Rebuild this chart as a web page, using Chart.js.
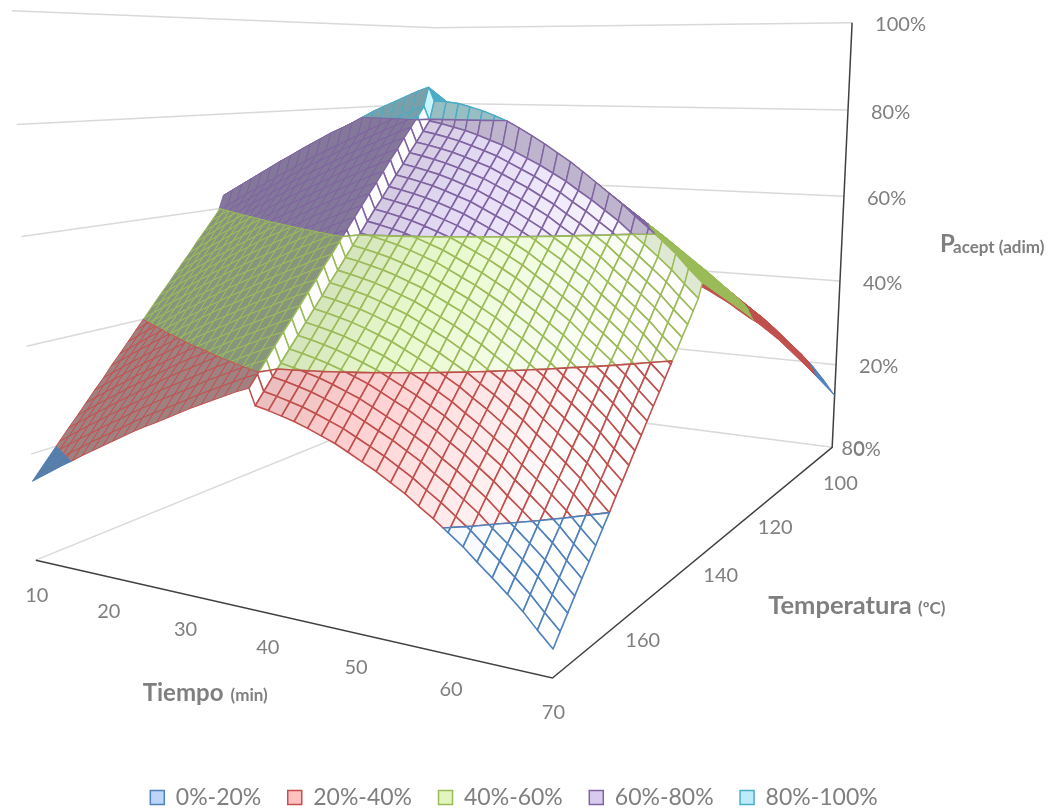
<!DOCTYPE html>
<html lang="es">
<head>
<meta charset="utf-8">
<title>Pacept</title>
<script src="https://cdn.jsdelivr.net/npm/chart.js@4/dist/chart.umd.min.js"></script>
<style>
  html, body { margin: 0; padding: 0; background: #fff; overflow: hidden; }
  #wrap { width: 1054px; height: 810px; }
</style>
</head>
<body>
<div id="wrap"><canvas id="surface" width="1054" height="810"></canvas></div>
<script>
const tiempoTicks = [10, 20, 30, 40, 50, 60, 70];
const temperaturaTicks = [80, 100, 120, 140, 160];
const pacTicks = [0, 20, 40, 60, 80, 100];
const bandLabels = ["0%-20%", "20%-40%", "40%-60%", "60%-80%", "80%-100%"];

// mesh columns (min)
const tiempo = [10, 11.4, 12.8, 14.2, 15.7, 17.1, 18.5, 19.9, 21.3, 22.7, 24.1, 25.5, 27, 28.4, 29.8, 31.2, 32.6, 34, 35.4, 36.8, 38.3,
  39, 40.5, 42, 43.4, 44.9, 46.4, 47.9, 49.3, 50.8, 52.3, 53.8, 55.3, 56.7, 58.2, 59.7, 61.2, 62.6, 64.1, 65.6, 67.1, 68.5, 70];
// mesh rows (C)
const temperatura = [80, 95, 110, 125, 140.6, 141.8, 143.4, 145.1, 146.8, 148.4, 150.1, 151.8, 153.4, 155.1, 156.8, 158.4, 160.1, 161.7,
  163.4, 165.1, 166.7, 168.4, 170.1, 171.7, 173.4, 175.1, 176.7, 178.4, 180];

// Pacept (%), one row per temperature
const pacept = [
  [23.0,24.3,25.6,26.9,28.2,29.5,30.7,31.9,33.1,34.3,35.5,36.6,37.7,38.8,39.9,41.0,42.0,43.0,44.0,45.0,45.9,43.1,42.6,42.0,41.4,40.6,39.7,38.8,37.7,36.5,35.3,33.9,32.5,30.9,29.3,28.0,26.7,25.2,23.5,21.4,18.8,16.0,12.6],
  [33.9,35.2,36.5,37.8,39.1,40.4,41.6,42.8,44.0,45.2,46.4,47.5,48.6,49.7,50.8,51.9,52.9,53.9,54.9,55.9,56.8,54.0,53.5,52.9,52.3,51.5,50.6,49.7,48.6,47.4,46.2,44.8,43.4,41.8,40.2,38.7,37.3,35.6,33.8,31.7,29.3,26.6,23.5],
  [44.2,45.5,46.8,48.1,49.4,50.7,51.9,53.1,54.3,55.5,56.7,57.8,58.9,60.0,61.1,62.2,63.2,64.2,65.2,66.2,67.1,64.3,63.8,63.2,62.6,61.8,60.9,60.0,58.9,57.7,56.5,55.1,53.7,52.1,50.5,48.7,46.9,44.9,42.9,40.8,38.6,36.2,33.8],
  [53.4,54.7,56.0,57.3,58.6,59.9,61.1,62.3,63.5,64.7,65.9,67.0,68.1,69.2,70.3,71.4,72.4,73.4,74.4,75.4,76.3,73.5,73.0,72.4,71.8,71.0,70.1,69.2,68.1,66.9,65.7,64.3,62.9,61.3,59.7,57.9,56.1,54.1,52.1,50.0,47.8,45.4,43.0],
  [62.7,64.0,65.3,66.6,68.0,69.3,70.6,71.8,73.1,74.3,75.5,76.7,77.8,78.9,80.1,81.3,82.3,83.3,84.3,85.3,86.2,83.5,83.4,83.1,82.5,81.8,80.9,79.9,78.7,77.3,75.8,74.2,72.6,70.9,69.0,67.1,65.2,63.1,61.1,58.9,56.7,54.2,51.8],
  [59.6,60.9,62.2,63.5,64.8,66.1,67.3,68.5,69.7,70.9,72.1,73.2,74.3,75.4,76.5,77.6,78.6,79.6,80.6,81.6,82.5,79.7,79.2,78.6,78.0,77.2,76.3,75.4,74.3,73.1,71.9,70.5,69.1,67.5,65.9,64.1,62.3,60.3,58.3,56.2,54.0,51.6,49.2],
  [57.7,59.0,60.3,61.6,62.9,64.2,65.4,66.6,67.8,69.0,70.2,71.3,72.4,73.5,74.6,75.7,76.7,77.7,78.7,79.7,80.6,77.8,77.3,76.7,76.1,75.3,74.4,73.5,72.4,71.2,70.0,68.6,67.2,65.6,64.0,62.2,60.4,58.4,56.4,54.3,52.1,49.7,47.3],
  [55.7,57.0,58.3,59.6,60.9,62.2,63.4,64.6,65.8,67.0,68.2,69.3,70.4,71.5,72.6,73.7,74.7,75.7,76.7,77.7,78.6,75.8,75.3,74.7,74.1,73.3,72.4,71.5,70.4,69.2,68.0,66.6,65.2,63.6,62.0,60.2,58.4,56.4,54.4,52.3,50.1,47.7,45.3],
  [53.8,55.1,56.4,57.7,59.0,60.3,61.5,62.7,63.9,65.1,66.3,67.4,68.5,69.6,70.7,71.8,72.8,73.8,74.8,75.8,76.7,73.9,73.4,72.8,72.2,71.4,70.5,69.6,68.5,67.3,66.1,64.7,63.3,61.7,60.1,58.3,56.5,54.5,52.5,50.4,48.2,45.8,43.4],
  [51.8,53.1,54.4,55.7,57.0,58.3,59.5,60.7,61.9,63.1,64.3,65.4,66.5,67.6,68.7,69.8,70.8,71.8,72.8,73.8,74.7,71.9,71.4,70.8,70.2,69.4,68.5,67.6,66.5,65.3,64.1,62.7,61.3,59.7,58.1,56.3,54.5,52.5,50.5,48.4,46.2,43.8,41.4],
  [49.9,51.2,52.5,53.8,55.1,56.4,57.6,58.8,60.0,61.2,62.4,63.5,64.6,65.7,66.8,67.9,68.9,69.9,70.9,71.9,72.8,70.0,69.5,68.9,68.3,67.5,66.6,65.7,64.6,63.4,62.2,60.8,59.4,57.8,56.2,54.4,52.6,50.6,48.6,46.5,44.3,41.9,39.5],
  [47.9,49.2,50.5,51.8,53.1,54.4,55.6,56.8,58.0,59.2,60.4,61.5,62.6,63.7,64.8,65.9,66.9,67.9,68.9,69.9,70.8,68.0,67.5,66.9,66.3,65.5,64.6,63.7,62.6,61.4,60.2,58.8,57.4,55.8,54.2,52.4,50.6,48.6,46.6,44.5,42.3,39.9,37.5],
  [46.0,47.3,48.6,49.9,51.2,52.5,53.7,54.9,56.1,57.3,58.5,59.6,60.7,61.8,62.9,64.0,65.0,66.0,67.0,68.0,68.9,66.1,65.6,65.0,64.4,63.6,62.7,61.8,60.7,59.5,58.3,56.9,55.5,53.9,52.3,50.5,48.7,46.7,44.7,42.6,40.4,38.0,35.6],
  [44.1,45.4,46.7,48.0,49.3,50.6,51.8,53.0,54.2,55.4,56.6,57.7,58.8,59.9,61.0,62.1,63.1,64.1,65.1,66.1,67.0,64.2,63.7,63.1,62.5,61.7,60.8,59.9,58.8,57.6,56.4,55.0,53.6,52.0,50.4,48.6,46.8,44.8,42.8,40.7,38.5,36.1,33.7],
  [42.1,43.4,44.7,46.0,47.3,48.6,49.8,51.0,52.2,53.4,54.6,55.7,56.8,57.9,59.0,60.1,61.1,62.1,63.1,64.1,65.0,62.2,61.7,61.1,60.5,59.7,58.8,57.9,56.8,55.6,54.4,53.0,51.6,50.0,48.4,46.6,44.8,42.8,40.8,38.7,36.5,34.1,31.7],
  [40.2,41.5,42.8,44.1,45.4,46.7,47.9,49.1,50.3,51.5,52.7,53.8,54.9,56.0,57.1,58.2,59.2,60.2,61.2,62.2,63.1,60.3,59.8,59.2,58.6,57.8,56.9,56.0,54.9,53.7,52.5,51.1,49.7,48.1,46.5,44.7,42.9,40.9,38.9,36.8,34.6,32.2,29.8],
  [38.2,39.5,40.8,42.1,43.4,44.7,45.9,47.1,48.3,49.5,50.7,51.8,52.9,54.0,55.1,56.2,57.2,58.2,59.2,60.2,61.1,58.3,57.8,57.2,56.6,55.8,54.9,54.0,52.9,51.7,50.5,49.1,47.7,46.1,44.5,42.7,40.9,38.9,36.9,34.8,32.6,30.2,27.8],
  [36.3,37.6,38.9,40.2,41.5,42.8,44.0,45.2,46.4,47.6,48.8,49.9,51.0,52.1,53.2,54.3,55.3,56.3,57.3,58.3,59.2,56.4,55.9,55.3,54.7,53.9,53.0,52.1,51.0,49.8,48.6,47.2,45.8,44.2,42.6,40.8,39.0,37.0,35.0,32.9,30.7,28.3,25.9],
  [34.3,35.6,36.9,38.2,39.5,40.8,42.0,43.2,44.4,45.6,46.8,47.9,49.0,50.1,51.2,52.3,53.3,54.3,55.3,56.3,57.2,54.4,53.9,53.3,52.7,51.9,51.0,50.1,49.0,47.8,46.6,45.2,43.8,42.2,40.6,38.8,37.0,35.0,33.0,30.9,28.7,26.3,23.9],
  [32.4,33.7,35.0,36.3,37.6,38.9,40.1,41.3,42.5,43.7,44.9,46.0,47.1,48.2,49.3,50.4,51.4,52.4,53.4,54.4,55.3,52.5,52.0,51.4,50.8,50.0,49.1,48.2,47.1,45.9,44.7,43.3,41.9,40.3,38.7,36.9,35.1,33.1,31.1,29.0,26.8,24.4,22.0],
  [30.4,31.7,33.0,34.3,35.6,36.9,38.1,39.3,40.5,41.7,42.9,44.0,45.1,46.2,47.3,48.4,49.4,50.4,51.4,52.4,53.3,50.5,50.0,49.4,48.8,48.0,47.1,46.2,45.1,43.9,42.7,41.3,39.9,38.3,36.7,34.9,33.1,31.1,29.1,27.0,24.8,22.4,20.0],
  [28.5,29.8,31.1,32.4,33.7,35.0,36.2,37.4,38.6,39.8,41.0,42.1,43.2,44.3,45.4,46.5,47.5,48.5,49.5,50.5,51.4,48.6,48.1,47.5,46.9,46.1,45.2,44.3,43.2,42.0,40.8,39.4,38.0,36.4,34.8,33.0,31.2,29.2,27.2,25.1,22.9,20.5,18.1],
  [26.5,27.8,29.1,30.4,31.7,33.0,34.2,35.4,36.6,37.8,39.0,40.1,41.2,42.3,43.4,44.5,45.5,46.5,47.5,48.5,49.4,46.6,46.1,45.5,44.9,44.1,43.2,42.3,41.2,40.0,38.8,37.4,36.0,34.4,32.8,31.0,29.2,27.2,25.2,23.1,20.9,18.5,16.1],
  [24.6,25.9,27.2,28.5,29.8,31.1,32.3,33.5,34.7,35.9,37.1,38.2,39.3,40.4,41.5,42.6,43.6,44.6,45.6,46.6,47.5,44.7,44.2,43.6,43.0,42.2,41.3,40.4,39.3,38.1,36.9,35.5,34.1,32.5,30.9,29.1,27.3,25.3,23.3,21.2,19.0,16.6,14.2],
  [22.7,24.0,25.3,26.6,27.9,29.2,30.4,31.6,32.8,34.0,35.2,36.3,37.4,38.5,39.6,40.7,41.7,42.7,43.7,44.7,45.6,42.8,42.3,41.7,41.1,40.3,39.4,38.5,37.4,36.2,35.0,33.6,32.2,30.6,29.0,27.2,25.4,23.4,21.4,19.3,17.1,14.7,12.3],
  [20.7,22.0,23.3,24.6,25.9,27.2,28.4,29.6,30.8,32.0,33.2,34.3,35.4,36.5,37.6,38.7,39.7,40.7,41.7,42.7,43.6,40.8,40.3,39.7,39.1,38.3,37.4,36.5,35.4,34.2,33.0,31.6,30.2,28.6,27.0,25.2,23.4,21.4,19.4,17.3,15.1,12.7,10.3],
  [18.8,20.1,21.4,22.7,24.0,25.3,26.5,27.7,28.9,30.1,31.3,32.4,33.5,34.6,35.7,36.8,37.8,38.8,39.8,40.8,41.7,38.9,38.4,37.8,37.2,36.4,35.5,34.6,33.5,32.3,31.1,29.7,28.3,26.7,25.1,23.3,21.5,19.5,17.5,15.4,13.2,10.8,8.4],
  [16.8,18.1,19.4,20.7,22.0,23.3,24.5,25.7,26.9,28.1,29.3,30.4,31.5,32.6,33.7,34.8,35.8,36.8,37.8,38.8,39.7,36.9,36.4,35.8,35.2,34.4,33.5,32.6,31.5,30.3,29.1,27.7,26.3,24.7,23.1,21.3,19.5,17.5,15.5,13.4,11.2,8.8,6.4],
  [14.9,16.2,17.5,18.8,20.1,21.4,22.6,23.8,25.0,26.2,27.4,28.5,29.6,30.7,31.8,32.9,33.9,34.9,35.9,36.9,37.8,35.0,34.5,33.9,33.3,32.5,31.6,30.7,29.6,28.4,27.2,25.8,24.4,22.8,21.2,19.4,17.6,15.6,13.6,11.5,9.3,6.9,4.5],
];

const lineColors = ["#4F81BD", "#C0504D", "#9BBB59", "#8064A2", "#4BACC6"];
const swatchColors = ["#BDD5F8", "#FFC0C0", "#E2F5BE", "#D8CAEC", "#BEEBFA"];
const darkFills = ["#5A7DA5", "#A08080", "#87967A", "#83789A", "#78A0AA"];
const shadeFills = ["#C6D3E3", "#E3C8C8", "#DEE8D2", "#BEB4CD", "#96BEC3"];
const paleFills = [[232, 240, 255], [255, 208, 208], [232, 250, 205], [232, 222, 248], [200, 245, 255]];

const LAST_LEFT_COL = 20; // last column left of the ridge
const RIDGE_ROW = 4; // row of the back fold
const TEXT_GREY = "#7F7F7F";
const FONT = "Lato, 'Open Sans', sans-serif";

// camera fitted to the corners of the box: floor and top of the walls
function project(t, T, p) {
  const u = (t - 10) / 60;
  const v = (T - 80) / 100;
  const h = p / 100;
  const w = 1 - 0.132 * u - 0.3094 * v - 0.03 * h;
  return {
    x: (284.2 * u - 413.8 * v + 438 + h * (7.8 * u - 0.9 * v - 16.05)) / w,
    y: (396 - 8 * u - 9.3 * v + h * (0.25 * u - 10.29 * v - 369.81)) / w,
  };
}

function lineDataset(points, color, width) {
  return {
    data: points,
    showLine: true,
    borderColor: color,
    borderWidth: width,
    pointRadius: 0,
    fill: false,
    tension: 0,
    clip: false,
  };
}

function cellDataset(points, color, fillColor, width) {
  const closed = points.concat([points[0]]);
  return Object.assign(lineDataset(closed, color, width), {
    backgroundColor: fillColor,
    fill: "shape",
    borderJoinStyle: "round",
  });
}

// keep the part of a cell between two levels
function clipLevel(poly, level, keepAbove) {
  const out = [];
  for (let i = 0; i < poly.length; i++) {
    const a = poly[i];
    const b = poly[(i + 1) % poly.length];
    const aIn = keepAbove ? a.p >= level : a.p <= level;
    const bIn = keepAbove ? b.p >= level : b.p <= level;
    if (aIn) out.push(a);
    if (aIn !== bIn) {
      const k = (level - a.p) / (b.p - a.p);
      out.push({ x: a.x + (b.x - a.x) * k, y: a.y + (b.y - a.y) * k, p: level });
    }
  }
  return out;
}

function paleFill(band, col) {
  const s = (col - LAST_LEFT_COL - 1) / (tiempo.length - LAST_LEFT_COL - 2);
  const base = paleFills[band];
  let rgb;
  if (s < 0.3) {
    const k = 1 - 0.08 * ((0.3 - s) / 0.3);
    rgb = base.map((c) => c * k);
  } else {
    const k = Math.min(1, (s - 0.3) / 0.55);
    rgb = base.map((c) => c + (255 - c) * k);
  }
  return "rgb(" + rgb.map(Math.round).join(",") + ")";
}

function cellStyle(band, col, row) {
  if (row < RIDGE_ROW) return { fill: lineColors[band], width: 1 };
  const leftSide = col < LAST_LEFT_COL;
  const strip = col === LAST_LEFT_COL;
  if (row === RIDGE_ROW) {
    if (leftSide) return { fill: darkFills[band], width: 1 };
    if (strip) return { fill: "#C8F5FF", width: 1.2 };
    return { fill: shadeFills[band], width: 1.4 };
  }
  if (leftSide) return { fill: darkFills[band], width: 1 };
  if (strip) return { fill: "#FFFFFF", width: 1.5 };
  return { fill: paleFill(band, col), width: 1.6 };
}

function surfaceDatasets() {
  const sets = [];
  // far corner first, the nearer cells paint over it
  for (let col = 0; col < tiempo.length - 1; col++) {
    for (let row = 0; row < temperatura.length - 1; row++) {
      const corners = [[row, col], [row, col + 1], [row + 1, col + 1], [row + 1, col]].map(([r, c]) => {
        const pos = project(tiempo[c], temperatura[r], pacept[r][c]);
        return { x: pos.x, y: pos.y, p: pacept[r][c] };
      });
      for (let band = 4; band >= 0; band--) {
        let poly = clipLevel(corners, band * 20, true);
        if (poly.length) poly = clipLevel(poly, (band + 1) * 20, false);
        if (poly.length < 3) continue;
        const style = cellStyle(band, col, row);
        sets.push(cellDataset(poly.map((q) => ({ x: q.x, y: q.y })), lineColors[band], style.fill, style.width));
      }
    }
  }
  return sets;
}

function boxDatasets() {
  const sets = [];
  pacTicks.forEach((p) => {
    const back = project(10, 80, p);
    sets.push(lineDataset([project(10, 180, p), back, project(70, 80, p)], "#D9D9D9", 1.5));
  });
  const axes = [project(10, 180, 0), project(70, 180, 0), project(70, 80, 0), project(70, 80, 100)];
  sets.push(lineDataset(axes, "#404040", 1.5));
  return sets;
}

// drawn last to first by Chart.js, so the nearest mark goes in front of the list
const allDatasets = boxDatasets().concat(surfaceDatasets()).reverse();

const tempLabelShift = [[21, 1], [47, 4], [27, 11], [26, 15], [12, 27]];

const axisText = {
  id: "axisText",
  afterDraw(chart) {
    const ctx = chart.ctx;
    const sx = chart.scales.x;
    const sy = chart.scales.y;
    const put = (text, x, y, font, align) => {
      ctx.font = font;
      ctx.textAlign = align || "center";
      ctx.fillText(text, sx.getPixelForValue(x), sy.getPixelForValue(y));
    };
    ctx.save();
    ctx.fillStyle = TEXT_GREY;
    ctx.textBaseline = "middle";
    const tick = "20px " + FONT;
    tiempoTicks.forEach((t) => {
      const pos = project(t, 180, 0);
      put(String(t), pos.x + 1, pos.y + 35, tick);
    });
    temperaturaTicks.forEach((T, i) => {
      const pos = project(70, T, 0);
      put(String(T), pos.x + tempLabelShift[i][0], pos.y + tempLabelShift[i][1], tick);
    });
    pacTicks.forEach((p) => {
      const pos = project(70, 80, p);
      put(p + "%", pos.x + (p === 0 ? 21 : 23), pos.y + 2, tick, "left");
    });
    const small = "bold 17px " + FONT;
    put("Tiempo", 142, 693, "bold 24px " + FONT, "left");
    put("(min)", 230, 695, small, "left");
    put("Temperatura", 768, 606, "bold 25.5px " + FONT, "left");
    put("(ºC)", 918, 608, small, "left");
    put("P", 940, 244, "bold 24px " + FONT, "left");
    put("acept (adim)", 953, 247, small, "left");
    ctx.restore();
  },
};

const chart = new Chart(document.getElementById("surface"), {
  type: "scatter",
  data: { datasets: allDatasets },
  plugins: [axisText],
  options: {
    responsive: false,
    animation: false,
    events: [],
    devicePixelRatio: 1,
    layout: { padding: { right: 26, bottom: -9 } },
    scales: {
      x: { type: "linear", min: 0, max: 1054, display: false },
      y: { type: "linear", min: 0, max: 810, reverse: true, display: false },
    },
    plugins: {
      tooltip: { enabled: false },
      legend: {
        position: "bottom",
        labels: {
          boxWidth: 14,
          boxHeight: 14,
          padding: 26.5,
          color: TEXT_GREY,
          font: { family: FONT, size: 23 },
          generateLabels: () =>
            bandLabels.map((text, i) => ({
              text,
              fillStyle: swatchColors[i],
              strokeStyle: lineColors[i],
              lineWidth: 1.5,
              fontColor: TEXT_GREY,
              hidden: false,
              index: i,
            })),
        },
      },
    },
  },
});

// the legend takes room, so make the scales read in page pixels
chart.options.scales.x.max = chart.chartArea.right;
chart.options.scales.y.max = chart.chartArea.bottom;
chart.update();
</script>
</body>
</html>
